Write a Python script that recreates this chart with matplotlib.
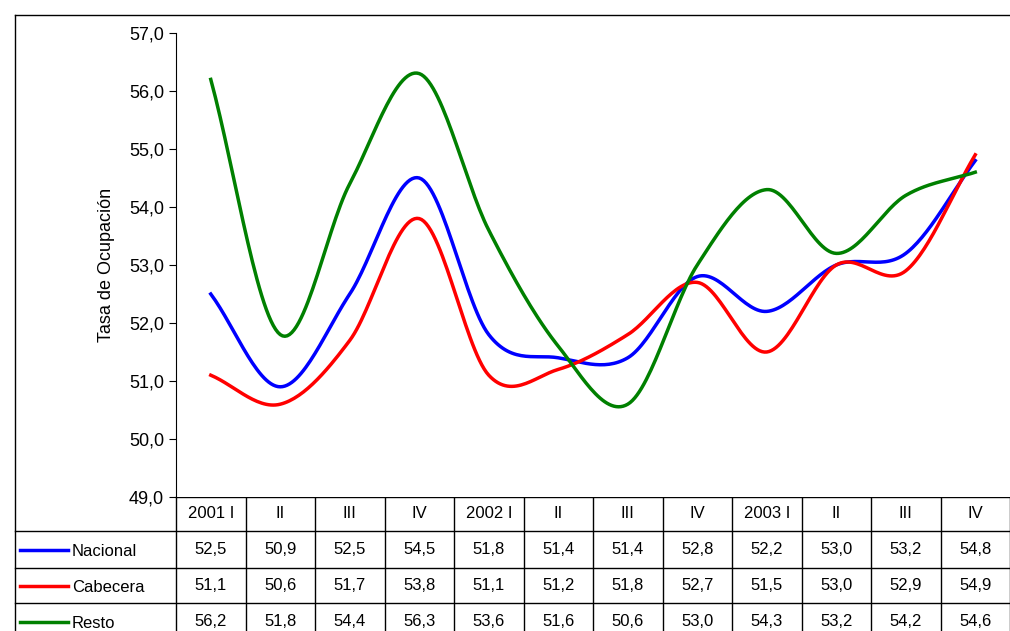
import numpy as np
import matplotlib
matplotlib.use("Agg")
import matplotlib.pyplot as plt

plt.rcParams['font.family'] = ['Liberation Sans', 'DejaVu Sans']

quarters = ["2001 I", "II", "III", "IV", "2002 I", "II", "III", "IV", "2003 I", "II", "III", "IV"]
nacional = [52.5, 50.9, 52.5, 54.5, 51.8, 51.4, 51.4, 52.8, 52.2, 53.0, 53.2, 54.8]
cabecera = [51.1, 50.6, 51.7, 53.8, 51.1, 51.2, 51.8, 52.7, 51.5, 53.0, 52.9, 54.9]
resto = [56.2, 51.8, 54.4, 56.3, 53.6, 51.6, 50.6, 53.0, 54.3, 53.2, 54.2, 54.6]
series = [("Nacional", nacional, "#0000ff"), ("Cabecera", cabecera, "#ff0000"), ("Resto", resto, "#008000")]


def catmull(x, y, n=30):
    x = np.asarray(x, float); y = np.asarray(y, float)
    px = np.concatenate([[2*x[0]-x[1]], x, [2*x[-1]-x[-2]]])
    py = np.concatenate([[2*y[0]-y[1]], y, [2*y[-1]-y[-2]]])
    xs, ys = [], []
    t = np.linspace(0, 1, n, endpoint=False)
    for i in range(1, len(px)-2):
        for p, out in ((px, xs), (py, ys)):
            p0, p1, p2, p3 = p[i-1], p[i], p[i+1], p[i+2]
            out.extend(0.5*((2*p1) + (-p0+p2)*t + (2*p0-5*p1+4*p2-p3)*t**2 + (-p0+3*p1-3*p2+p3)*t**3))
    xs.append(x[-1]); ys.append(y[-1])
    return np.array(xs), np.array(ys)


W, H = 1010, 631
L, R, T, B = 176, 1010, 33, 497
fig = plt.figure(figsize=(W/100, H/100), dpi=100)
ax = fig.add_axes([L/W, 1-B/H, (R-L)/W, (B-T)/H])
xpos = np.arange(len(quarters)) + 0.5
for name, vals, c in series:
    sx, sy = catmull(xpos, vals)
    ax.plot(sx, sy, color=c, lw=2.5, clip_on=False)
ax.set_xlim(0, 12)
ax.set_ylim(49, 57)
ax.set_yticks(np.arange(49, 57.1, 1))
ax.set_yticklabels([f"{v:.1f}".replace(".", ",") for v in np.arange(49, 57.1, 1)], fontsize=13)
ax.set_xticks([])
for s in ["top", "right", "bottom"]:
    ax.spines[s].set_visible(False)
ax.tick_params(axis='y', direction='out', length=5)
ax.set_ylabel("Tasa de Ocupación", fontsize=13, labelpad=10)

ov = fig.add_axes([0, 0, 1, 1], zorder=-1)
ov.set_xlim(0, W); ov.set_ylim(H, 0); ov.axis('off')
k = dict(color='black', lw=1)
ov.plot([15, W], [15, 15], **k)
ov.plot([15, 15], [15, H], **k)
cw = (R-L)/12
rows = [497, 531, 568, 603, 640]
ov.plot([L, R], [497, 497], **k)
for y in rows[1:]:
    ov.plot([15, R], [y, y], **k)
for i in range(13):
    ov.plot([L+i*cw]*2, [497, H], **k)
for i, q in enumerate(quarters):
    ov.text(L+(i+0.5)*cw, 514, q, ha='center', va='center', fontsize=12)
for r, (name, vals, c) in enumerate(series):
    yc = (rows[r+1]+rows[r+2])/2 + 2
    ov.plot([20, 68], [yc-2, yc-2], color=c, lw=2.5)
    ov.text(72, yc, name, ha='left', va='center', fontsize=12)
    for i, v in enumerate(vals):
        ov.text(L+(i+0.5)*cw, yc-2, f"{v:.1f}".replace(".", ","), ha='center', va='center', fontsize=12)

fig.savefig("out.png", dpi=100)
